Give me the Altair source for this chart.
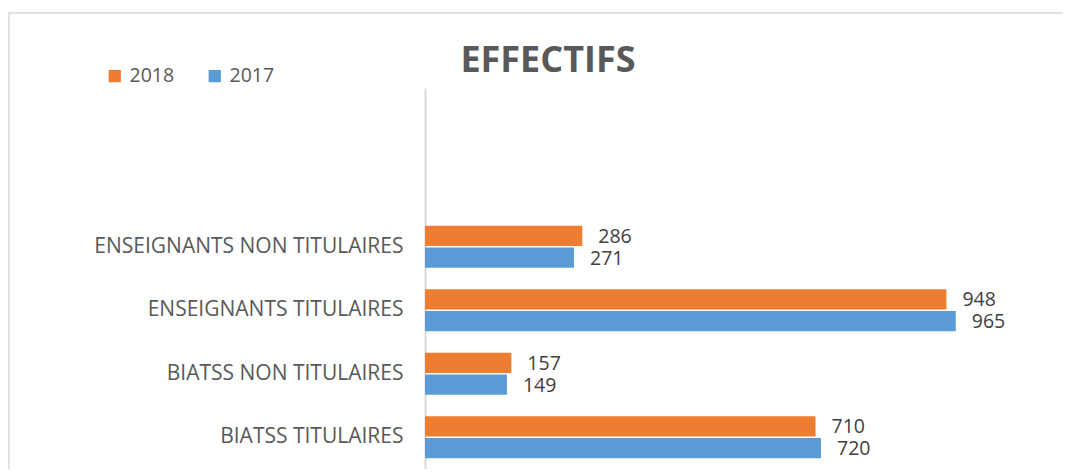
import altair as alt
import pandas as pd

categories = ["ENSEIGNANTS NON TITULAIRES", "ENSEIGNANTS TITULAIRES",
              "BIATSS NON TITULAIRES", "BIATSS TITULAIRES"]
empty_slots = ["__vide1", "__vide2"]
series = ["2018", "2017"]
values_2018 = [286, 948, 157, 710]
values_2017 = [271, 965, 149, 720]
colors = ["#ED7D31", "#5B9BD5"]
title_text = "EFFECTIFS"

rows = []
for c, v18, v17 in zip(categories, values_2018, values_2017):
    rows.append({"cat": c, "year": "2018", "val": v18})
    rows.append({"cat": c, "year": "2017", "val": v17})
df = pd.DataFrame(rows)

W, H = 605, 381
FONT = "Open Sans"

y_enc = alt.Y("cat:N", scale=alt.Scale(domain=empty_slots + categories, paddingInner=0.34, paddingOuter=0.17),
              axis=alt.Axis(title=None, ticks=False, labelFontSize=21, labelColor="#595959",
                            labelFont=FONT, labelPadding=22, labelLimit=500,
                            domainColor="#D9D9D9", domainWidth=2,
                            labelExpr="indexof(datum.value, '__vide') == 0 ? '' : datum.value"))
x_enc = alt.X("val:Q", scale=alt.Scale(domain=[0, 1100]), axis=None)
yoff = alt.YOffset("year:N", scale=alt.Scale(domain=series, paddingInner=0.06))

bars = alt.Chart(df).mark_bar().encode(
    y=y_enc, x=x_enc, yOffset=yoff,
    color=alt.Color("year:N", scale=alt.Scale(domain=series, range=colors),
                    legend=alt.Legend(title=None, orient="none", legendX=-320, legendY=-22,
                                      direction="horizontal", symbolType="square", symbolSize=150,
                                      symbolStrokeWidth=0, labelFontSize=19.5, labelColor="#595959",
                                      labelFont=FONT, columnPadding=30, labelOffset=5)),
)

labels = alt.Chart(df).mark_text(align="left", baseline="middle", dx=16, dy=1, fontSize=19.5,
                                 color="#404040", font=FONT).encode(
    y=y_enc, x=x_enc, yOffset=yoff, text="val:Q")

frame = alt.Chart(alt.Data(values=[{}])).mark_rect(fill=None, stroke="#D9D9D9", strokeWidth=1.5).encode(
    x=alt.value(-416), x2=alt.value(W + 60), y=alt.value(-75), y2=alt.value(H + 60))

title = alt.Chart(alt.Data(values=[{}])).mark_text(
    fontSize=36, font=FONT, fontWeight="bold", color="#595959", align="center", baseline="alphabetic"
).encode(x=alt.value(123), y=alt.value(-16), text=alt.value(title_text))

chart = alt.layer(frame, bars, labels, title).properties(
    width=W, height=H,
    autosize=alt.AutoSizeParams(type="none"),
    padding={"left": 417, "top": 80, "right": 33, "bottom": 0},
).configure_view(stroke=None)

chart.save("out.html", embed_options={"renderer": "svg", "actions": False})
